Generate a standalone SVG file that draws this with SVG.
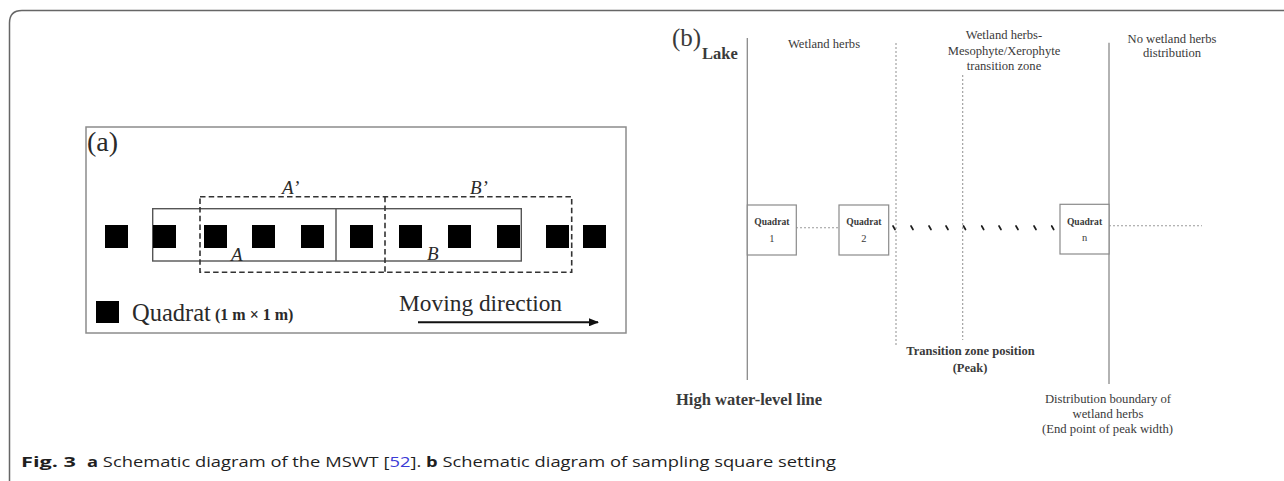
<svg xmlns="http://www.w3.org/2000/svg" width="1284" height="481" viewBox="0 0 1284 481">
  <style>
    .serif { font-family: "Liberation Serif", "Times New Roman", serif; }
    .ink { fill: #2a2a2a; }
    .soft { fill: #3a3a3a; }
    .sq { fill: #000; }
    .solid { fill: none; stroke: #555; stroke-width: 1.4; }
    .dash { fill: none; stroke: #333; stroke-width: 1.6; stroke-dasharray: 5.5 3.2; }
    .gline { fill: none; stroke: #8a8a8a; stroke-width: 1.3; }
    .gdash { fill: none; stroke: #9a9a9a; stroke-width: 1.1; stroke-dasharray: 2 2; }
    .qbox { fill: #fff; stroke: #8a8a8a; stroke-width: 1.2; }
    .tick { stroke: #1e1e1e; stroke-width: 1.7; stroke-linecap: round; }
    .cap { font-family: "Open Sans", "Noto Sans", sans-serif; font-size: 14.6px; fill: #1f1f1f; }
  </style>
  <defs>
    <marker id="arrowhead" markerWidth="10" markerHeight="8" refX="9" refY="4" orient="auto" markerUnits="userSpaceOnUse">
      <path d="M0,0 L10,4 L0,8 Z" fill="#111"/>
    </marker>
  </defs>

  <rect width="1284" height="481" fill="#fff"/>

  <!-- figure frame: left and top rules with a rounded corner -->
  <path d="M9.5,481 V23 Q9.5,10.5 22,10.5 H1284" fill="none" stroke="#666" stroke-width="1.5"/>

  <!-- ===== panel (a): moving split-window layout ===== -->
  <g id="panel-a">
    <rect x="86" y="127" width="540" height="206" fill="none" stroke="#8c8c8c" stroke-width="1.5"/>
    <text class="serif ink" x="87" y="151" font-size="28">(a)</text>

    <g id="window-solid">
      <rect class="solid" x="152.7" y="208.7" width="368.6" height="52.3"/>
      <line class="solid" x1="336" y1="208.7" x2="336" y2="261"/>
    </g>
    <g id="window-dashed">
      <rect class="dash" x="200" y="196.7" width="371.7" height="75.6"/>
      <line class="dash" x1="385" y1="196.7" x2="385" y2="272.3"/>
    </g>

    <g id="quadrats">
      <rect class="sq" x="105" y="225" width="23" height="23"/>
      <rect class="sq" x="153" y="225" width="23" height="23"/>
      <rect class="sq" x="204" y="225" width="23" height="23"/>
      <rect class="sq" x="252" y="225" width="23" height="23"/>
      <rect class="sq" x="301" y="225" width="23" height="23"/>
      <rect class="sq" x="350" y="225" width="23" height="23"/>
      <rect class="sq" x="399" y="225" width="23" height="23"/>
      <rect class="sq" x="448" y="225" width="23" height="23"/>
      <rect class="sq" x="497" y="225" width="23" height="23"/>
      <rect class="sq" x="546" y="225" width="23" height="23"/>
      <rect class="sq" x="583" y="225" width="23" height="23"/>
    </g>

    <g id="window-labels" class="serif ink" font-style="italic" font-size="19">
      <text x="282" y="194">A’</text>
      <text x="470" y="194">B’</text>
      <text x="231" y="261">A</text>
      <text x="427" y="260">B</text>
    </g>

    <g id="legend">
      <rect class="sq" x="96" y="301" width="23" height="22"/>
      <text class="serif ink" x="132" y="320.5" font-size="24.5">Quadrat</text>
      <text class="serif ink" x="215" y="320" font-size="16" font-weight="bold">(1 m × 1 m)</text>
      <text class="serif ink" x="399" y="311" font-size="23.4">Moving direction</text>
      <line x1="418" y1="322.3" x2="598" y2="322.3" stroke="#111" stroke-width="2" marker-end="url(#arrowhead)"/>
    </g>
  </g>

  <!-- ===== panel (b): sampling quadrat setting ===== -->
  <g id="panel-b">
    <text class="serif soft" x="672" y="46" font-size="25">(b)</text>
    <text class="serif soft" x="702" y="59" font-size="16.5" font-weight="bold">Lake</text>

    <g id="boundaries">
      <line class="gline" x1="747.3" y1="38" x2="747.3" y2="380"/>
      <line class="gdash" x1="896" y1="43" x2="896" y2="347"/>
      <line class="gdash" x1="962.7" y1="75" x2="962.7" y2="340"/>
      <line class="gline" x1="1109" y1="42.7" x2="1109" y2="384"/>
    </g>

    <g id="connectors">
      <line class="gdash" x1="796" y1="227.7" x2="839" y2="227.7"/>
      <line class="gdash" x1="1109" y1="225.7" x2="1202" y2="225.7"/>
      <g id="ellipsis-ticks">
        <line class="tick" x1="893" y1="226" x2="895" y2="229.5"/>
        <line class="tick" x1="911" y1="226" x2="913" y2="229.5"/>
        <line class="tick" x1="929" y1="226" x2="931" y2="229.5"/>
        <line class="tick" x1="946" y1="226" x2="948" y2="229.5"/>
        <line class="tick" x1="963.5" y1="226" x2="965.5" y2="229.5"/>
        <line class="tick" x1="981.7" y1="226" x2="983.7" y2="229.5"/>
        <line class="tick" x1="999" y1="226" x2="1001" y2="229.5"/>
        <line class="tick" x1="1016" y1="226" x2="1018" y2="229.5"/>
        <line class="tick" x1="1034" y1="226" x2="1036" y2="229.5"/>
        <line class="tick" x1="1051.7" y1="226" x2="1053.7" y2="229.5"/>
      </g>
    </g>

    <g id="quadrat-1">
      <rect class="qbox" x="747.3" y="205" width="49" height="50"/>
      <text class="serif soft" x="771.8" y="225.3" font-size="9.6" font-weight="bold" text-anchor="middle">Quadrat</text>
      <text class="serif soft" x="771.8" y="242" font-size="10.5" text-anchor="middle">1</text>
    </g>
    <g id="quadrat-2">
      <rect class="qbox" x="839" y="205" width="49.7" height="50"/>
      <text class="serif soft" x="863.8" y="225.3" font-size="9.6" font-weight="bold" text-anchor="middle">Quadrat</text>
      <text class="serif soft" x="863.8" y="242" font-size="10.5" text-anchor="middle">2</text>
    </g>
    <g id="quadrat-n">
      <rect class="qbox" x="1060" y="204.3" width="49" height="49.7"/>
      <text class="serif soft" x="1084.5" y="224.5" font-size="9.6" font-weight="bold" text-anchor="middle">Quadrat</text>
      <text class="serif soft" x="1084.5" y="240.5" font-size="10.5" text-anchor="middle">n</text>
    </g>

    <g id="zone-labels" class="serif soft" font-size="12.6" text-anchor="middle">
      <text x="824" y="48">Wetland herbs</text>
      <text x="1004" y="38.5">Wetland herbs-</text>
      <text x="1004" y="54.5">Mesophyte/Xerophyte</text>
      <text x="1004" y="70">transition zone</text>
      <text x="1172" y="42.5">No wetland herbs</text>
      <text x="1172" y="57">distribution</text>
    </g>

    <g id="line-labels" class="serif soft">
      <text x="676" y="405" font-size="16.5" font-weight="bold">High water-level line</text>
      <text x="970.5" y="355" font-size="12.5" font-weight="bold" text-anchor="middle">Transition zone position</text>
      <text x="970" y="371.5" font-size="12.5" font-weight="bold" text-anchor="middle">(Peak)</text>
      <text x="1108" y="403" font-size="12.7" text-anchor="middle">Distribution boundary of</text>
      <text x="1108" y="418" font-size="12.7" text-anchor="middle">wetland herbs</text>
      <text x="1107.5" y="433" font-size="12.7" text-anchor="middle">(End point of peak width)</text>
    </g>
  </g>

  <!-- caption -->
  <g id="caption">
    <text class="cap" x="21" y="467.3" font-weight="bold" textLength="55" lengthAdjust="spacingAndGlyphs">Fig. 3</text>
    <text class="cap" x="87" y="467.3" textLength="749" lengthAdjust="spacingAndGlyphs"><tspan font-weight="bold">a</tspan> Schematic diagram of the MSWT [<tspan fill="#3b3bd6">52</tspan>]. <tspan font-weight="bold">b</tspan> Schematic diagram of sampling square setting</text>
  </g>
</svg>
